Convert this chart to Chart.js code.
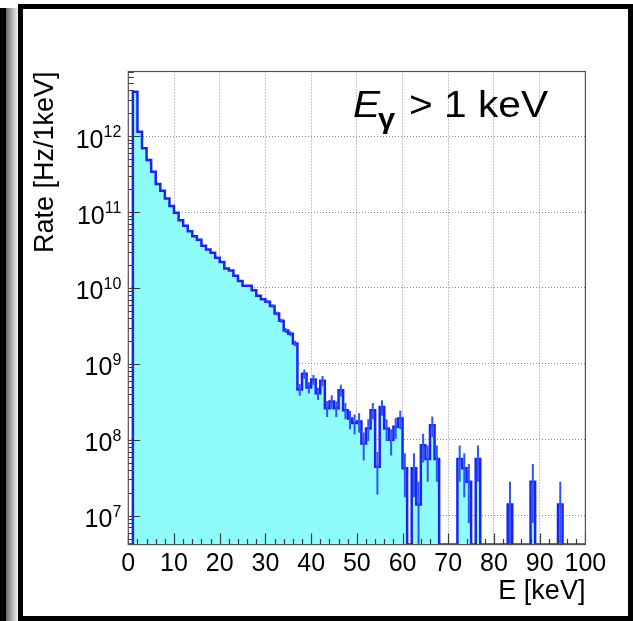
<!DOCTYPE html>
<html>
<head>
<meta charset="utf-8">
<script src="https://cdn.jsdelivr.net/npm/chart.js@4.4.1/dist/chart.umd.min.js"></script>
<style>
  html, body { margin: 0; padding: 0; background: #fff; }
  body { width: 633px; height: 621px; position: relative; overflow: hidden; }
  #edge { position: absolute; left: 0; top: 8px; width: 6px; bottom: 0; background: #000; }
  #shade { position: absolute; left: 6px; top: 8px; width: 12px; bottom: 0; background: linear-gradient(to right, #6a6a6a, #f4f4f4); }
  #frame { position: absolute; left: 18px; top: 4px; width: 615px; height: 617px; border: 5px solid #000; box-sizing: border-box; }
  canvas { position: absolute; left: 0; top: 0; }
</style>
</head>
<body>
<div id="edge"></div>
<div id="shade"></div>
<div id="frame"></div>
<canvas id="spectrum" width="633" height="621"></canvas>
<script>
// 1 keV bins from 0 to 100 keV
const binStart = 0;
const binWidth = 1;

// rate per bin [Hz/1keV] (0 = empty bin)
const rate = [
    0,      3.84e12, 1.14e12, 6.9e11,  4.83e11, 3.39e11, 2.34e11, 1.9e11,  1.51e11, 1.2e11,
    9.8e10, 7.8e10,  6.6e10,  5.6e10,  4.8e10,  4.3e10,  3.6e10,  3.2e10,  2.9e10,  2.5e10,
    2.2e10, 1.8e10,  1.7e10,  1.45e10, 1.23e10, 1.07e10, 1.07e10, 9.3e9,   7.9e9,   7.1e9,
    6.6e9,  5.8e9,   4.6e9,   3.7e9,   2.75e9,  2.5e9,   1.86e9,  4.6e8,   7.4e8,   4.9e8,
    6.2e8,  4.1e8,   6.0e8,   2.6e8,   3.2e8,   2.6e8,   4.5e8,   2.45e8,  1.9e8,   1.66e8,
    1.74e8, 8.9e7,   1.41e8,  2.45e8,  4.4e7,   2.7e8,   1.41e8,  1.0e8,   1.48e8,  1.9e8,
    4.2e7,  0,       4.2e7,   1.4e7,   8.5e7,   5.6e7,   1.55e8,  5.6e7,   0,       0,
    0,      0,       5.6e7,   4.2e7,   2.8e7,   0,       5.6e7,   0,       0,       0,
    0,      0,       0,       1.4e7,   0,       0,       0,       0,       2.8e7,   0,
    0,      0,       0,       0,       1.4e7,   0,       0,       0,       0,       0
];

// error bar half-lengths per bin [Hz/1keV], estimated from the plot (0 = too small to see)
const rateErr = [
    0,      0,       0,       0,       0,       0,       0,       0,       0,       0,
    0,      0,       0,       0,       0,       0,       0,       0,       0,       0,
    0,      0,       0,       0,       0,       0,       0,       0,       0,       0,
    3.1e8,  2.9e8,   2.6e8,   2.3e8,   2.0e8,   1.9e8,   1.6e8,   8.1e7,   1.03e8,  8.3e7,
    9.4e7,  7.6e7,   9.2e7,   6.1e7,   6.7e7,   6.1e7,   8.0e7,   5.9e7,   5.2e7,   4.85e7,
    5.0e7,  3.55e7,  4.5e7,   5.9e7,   2.5e7,   6.2e7,   4.5e7,   3.8e7,   4.6e7,   5.2e7,
    2.45e7, 0,       2.45e7,  1.4e7,   3.5e7,   2.8e7,   4.7e7,   2.8e7,   0,       0,
    0,      0,       2.8e7,   2.45e7,  2.0e7,   0,       2.8e7,   0,       0,       0,
    0,      0,       0,       1.4e7,   0,       0,       0,       0,       2.0e7,   0,
    0,      0,       0,       0,       1.4e7,   0,       0,       0,       0,       0
];

const xRange = [0, 100];
const yRange = [4.16e6, 7.1e12];
const xMajorStep = 10;
const xMinorStep = 2;

const FONT = '"Liberation Sans", Arial, Helvetica, sans-serif';
const LINE_BLUE = 'rgb(28, 36, 245)';
const ERR_BLUE = 'rgb(45, 85, 255)';
const FILL_CYAN = 'rgb(143, 252, 252)';
const GRID_GREY = 'rgba(130, 130, 130, 0.9)';

function isDecade(v) {
    const l = Math.log10(v);
    return Math.abs(l - Math.round(l)) < 1e-9;
}

// histogram as a step line through the bin edges, empty bins sit on the axis floor
const histPoints = rate.map((v, i) => ({ x: binStart + i * binWidth, y: v > 0 ? v : yRange[0] }));
histPoints.push({ x: binStart + rate.length * binWidth, y: rate[rate.length - 1] > 0 ? rate[rate.length - 1] : yRange[0] });

/**
 * Draws the vertical error bars at each bin centre.
 */
const errorBars = {
    id: 'errorBars',
    afterDatasetsDraw(chart) {
        const { ctx, chartArea, scales: { x, y } } = chart;
        ctx.save();
        ctx.beginPath();
        ctx.rect(chartArea.left, chartArea.top - 2, chartArea.width, chartArea.height + 3);
        ctx.clip();
        ctx.strokeStyle = ERR_BLUE;
        ctx.lineWidth = 2;
        rate.forEach((v, i) => {
            const e = rateErr[i];
            if (!v || !e) return;
            const px = x.getPixelForValue(binStart + (i + 0.5) * binWidth);
            const lo = v - e > yRange[0] ? y.getPixelForValue(v - e) : chartArea.bottom + 1;
            const hi = y.getPixelForValue(v + e);
            ctx.beginPath();
            ctx.moveTo(px, lo);
            ctx.lineTo(px, hi);
            ctx.stroke();
        });
        ctx.restore();
    }
};

/**
 * ROOT style frame with inward ticks, 10^n labels and the energy cut label.
 */
const rootFrame = {
    id: 'rootFrame',
    afterDraw(chart) {
        const { ctx, chartArea: a, scales: { x, y } } = chart;
        ctx.save();
        ctx.strokeStyle = '#3a3a3a';
        ctx.lineWidth = 1.2;

        ctx.beginPath();
        y.ticks.forEach(t => {
            const py = Math.round(y.getPixelForValue(t.value)) + 0.5;
            const len = isDecade(t.value) ? 12 : 5.5;
            ctx.moveTo(a.left, py);
            ctx.lineTo(a.left + len, py);
        });
        x.ticks.forEach(t => {
            const px = Math.round(x.getPixelForValue(t.value)) + 0.5;
            const len = t.value % xMajorStep === 0 ? 11 : 5.5;
            ctx.moveTo(px, a.bottom);
            ctx.lineTo(px, a.bottom - len);
        });
        ctx.stroke();

        ctx.strokeStyle = '#555';
        ctx.strokeRect(a.left, a.top, a.width, a.height);

        // decade labels: "10" with a raised exponent
        ctx.fillStyle = '#000';
        ctx.textBaseline = 'alphabetic';
        ctx.textAlign = 'right';
        y.ticks.filter(t => isDecade(t.value)).forEach(t => {
            const py = y.getPixelForValue(t.value);
            const exp = String(Math.round(Math.log10(t.value)));
            const right = a.left - 7;
            ctx.font = '16px ' + FONT;
            const w = ctx.measureText(exp).width;
            ctx.fillText(exp, right, py + 1);
            ctx.font = '25px ' + FONT;
            ctx.fillText('10', right - w, py + 11.5);
        });

        // E_gamma > 1 keV
        ctx.textAlign = 'left';
        const put = (s, font, px, py) => {
            ctx.save();
            ctx.font = font;
            ctx.translate(px, py);
            ctx.scale(1.1, 1);
            ctx.fillText(s, 0, 0);
            ctx.restore();
        };
        put('E', 'italic 37px ' + FONT, 353, 117);
        put('\u03b3', 'bold 28px ' + FONT, 378, 128);
        put('> 1 keV', '37px ' + FONT, 409, 117);
        ctx.restore();
    }
};

new Chart(document.getElementById('spectrum'), {
    type: 'line',
    data: {
        datasets: [{
            label: 'Rate',
            data: histPoints,
            stepped: true,
            borderColor: LINE_BLUE,
            borderWidth: 2.5,
            backgroundColor: FILL_CYAN,
            fill: 'start',
            pointRadius: 0,
            tension: 0
        }]
    },
    options: {
        responsive: false,
        animation: false,
        events: [],
        layout: { padding: { left: 29, right: 47.6, top: 71.5, bottom: 13.4 } },
        plugins: {
            legend: { display: false },
            tooltip: { enabled: false }
        },
        scales: {
            x: {
                type: 'linear',
                min: xRange[0],
                max: xRange[1],
                afterFit: scale => { scale.height = 63; },
                ticks: {
                    stepSize: xMinorStep,
                    autoSkip: false,
                    maxRotation: 0,
                    padding: 5,
                    color: '#000',
                    font: { family: FONT, size: 25 },
                    callback: v => (v % xMajorStep === 0 ? String(v) : '')
                },
                grid: {
                    drawTicks: false,
                    color: c => (c.tick && c.tick.value % xMajorStep === 0 ? GRID_GREY : 'transparent'),
                    lineWidth: 1
                },
                border: { display: false, dash: [1, 2] },
                title: {
                    display: true,
                    text: 'E [keV]',
                    align: 'end',
                    color: '#000',
                    padding: 0,
                    font: { family: FONT, size: 27 }
                }
            },
            y: {
                type: 'logarithmic',
                min: yRange[0],
                max: yRange[1],
                afterFit: scale => { scale.width = 99.3; },
                afterBuildTicks: scale => {
                    const ticks = [];
                    for (let e = 6; e <= 12; e++) {
                        for (let k = 1; k <= 9; k++) {
                            const v = k * Math.pow(10, e);
                            if (v >= yRange[0] && v <= yRange[1]) ticks.push({ value: v });
                        }
                    }
                    scale.ticks = ticks;
                },
                ticks: { display: false, autoSkip: false },
                grid: {
                    drawTicks: false,
                    color: c => (c.tick && isDecade(c.tick.value) ? GRID_GREY : 'transparent'),
                    lineWidth: 1
                },
                border: { display: false, dash: [1, 2] },
                title: {
                    display: true,
                    text: 'Rate [Hz/1keV]',
                    align: 'end',
                    color: '#000',
                    padding: 0,
                    font: { family: FONT, size: 27 }
                }
            }
        }
    },
    plugins: [errorBars, rootFrame]
});
</script>
</body>
</html>
